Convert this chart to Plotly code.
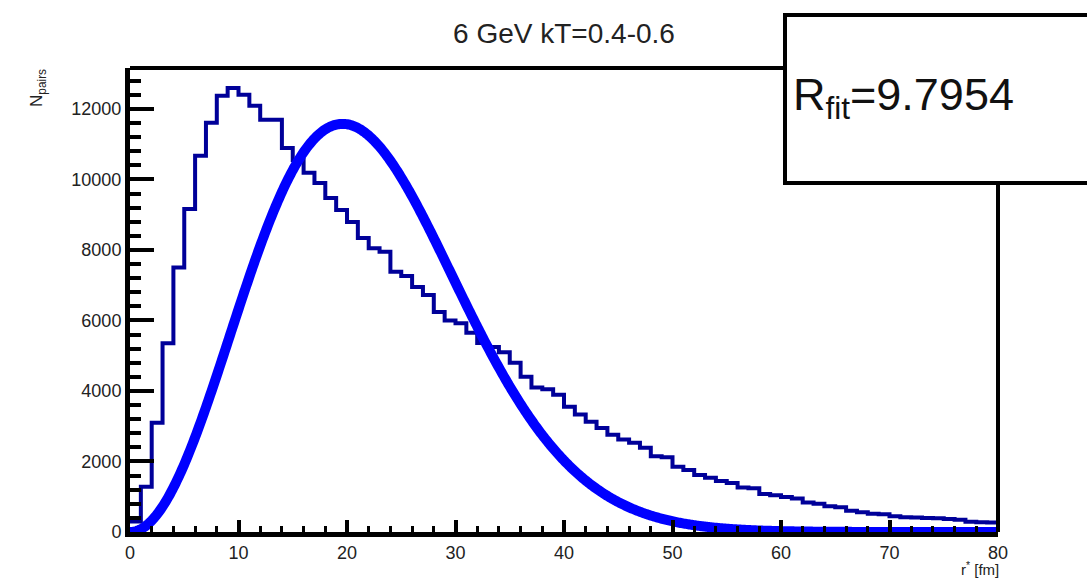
import numpy as np
import plotly.graph_objects as go

# Pair-separation histogram, 1 fm bins from 0 to 80 fm
bin_edges = list(range(0, 81))
counts = [300, 1280, 3100, 5350, 7500, 9160, 10670, 11610, 12370, 12590,
          12400, 12090, 11690, 11690, 10890, 10550, 10190, 9900, 9475, 9135,
          8795, 8340, 8050, 7950, 7380, 7260, 6950, 6720, 6240, 6000,
          5920, 5650, 5360, 5250, 5100, 4800, 4400, 4100, 4050, 3890,
          3550, 3330, 3130, 2950, 2760, 2620, 2530, 2390, 2150, 2120,
          1850, 1760, 1620, 1540, 1450, 1390, 1260, 1240, 1080, 1040,
          990, 950, 840, 800, 730, 700, 600, 560, 520, 500,
          450, 420, 410, 400, 390, 370, 350, 290, 280, 270]

# Gaussian source fit: N(r) = A * (r/2R)^2 * exp(1 - (r/2R)^2), peak height A at r = 2R
R_fit = 9.7954
fit_peak = 11575

x_ticks = [0, 10, 20, 30, 40, 50, 60, 70, 80]
y_ticks = [0, 2000, 4000, 6000, 8000, 10000, 12000]

W, H = 1087, 580
L, R, T, B = 130, 89, 68, 48
pw, ph = W - L - R, H - T - B


def px_x(p):
    return (p - L) / pw


def px_y(p):
    return (H - B - p) / ph


fig = go.Figure()

# histogram outline
hx = bin_edges[:-1] + [bin_edges[-1]]
hy = counts + [counts[-1]]
fig.add_trace(go.Scatter(x=hx, y=hy, mode="lines", line_shape="hv",
                         line=dict(color="#000099", width=4),
                         hoverinfo="skip", showlegend=False))

# fit curve
r = np.linspace(0, 80, 800)
u = (r / (2 * R_fit)) ** 2
fit_vals = fit_peak * u * np.exp(1 - u)
fig.add_trace(go.Scatter(x=r, y=fit_vals, mode="lines",
                         line=dict(color="#0000ff", width=10, simplify=False),
                         hoverinfo="skip", showlegend=False))

axis_font = dict(family="Liberation Sans, Arial, sans-serif", size=18, color="#222")

fig.update_layout(
    width=W, height=H,
    margin=dict(l=L, r=R, t=T, b=B),
    paper_bgcolor="white", plot_bgcolor="white",
    title=dict(text="6 GeV kT=0.4-0.6", x=px_x(564), xref="paper",
               y=1 - 33 / H, yref="container", xanchor="center", yanchor="middle",
               font=dict(family="Liberation Sans, Arial, sans-serif", size=28, color="#222")),
    xaxis=dict(range=[0, 80], tickvals=x_ticks, ticktext=[str(v) for v in x_ticks],
               ticks="inside", ticklen=12, tickwidth=4, tickcolor="black",
               minor=dict(dtick=2, ticks="inside", ticklen=6, tickwidth=3, tickcolor="black"),
               showline=True, linewidth=5, linecolor="black", mirror=False,
               showgrid=False, zeroline=False, tickfont=axis_font, fixedrange=True),
    yaxis=dict(range=[0, 13160], tickvals=y_ticks, ticktext=[str(v) for v in y_ticks],
               ticks="inside", ticklen=24, tickwidth=4, tickcolor="black",
               minor=dict(dtick=400, ticks="inside", ticklen=11, tickwidth=4, tickcolor="black"),
               showline=True, linewidth=5, linecolor="black", mirror=False,
               showgrid=False, zeroline=False, tickfont=axis_font, fixedrange=True),
    shapes=[
        # top and right frame edges
        dict(type="line", xref="paper", yref="paper", x0=0, x1=1, y0=1, y1=1,
             line=dict(color="black", width=4)),
        dict(type="line", xref="paper", yref="paper", x0=1, x1=1, y0=0, y1=1,
             line=dict(color="black", width=4)),
        # fit-result box
        dict(type="rect", xref="paper", yref="paper",
             x0=px_x(785), x1=px_x(1095), y0=px_y(183), y1=px_y(15),
             line=dict(color="black", width=4), fillcolor="white", layer="above"),
    ],
    annotations=[
        dict(text="R<sub>fit</sub>=9.7954", xref="paper", yref="paper",
             x=px_x(791), y=px_y(97), xanchor="left", yanchor="middle", showarrow=False,
             font=dict(family="Liberation Sans, Arial, sans-serif", size=45, color="#111")),
        dict(text="N<sub>pairs</sub>", xref="paper", yref="paper", textangle=-90,
             x=px_x(38), y=px_y(88), xanchor="center", yanchor="middle", showarrow=False,
             font=dict(family="Liberation Sans, Arial, sans-serif", size=17, color="#222")),
        dict(text="r<sup>*</sup> [fm]", xref="paper", yref="paper",
             x=px_x(1001), y=px_y(568), xanchor="right", yanchor="middle", showarrow=False,
             font=dict(family="Liberation Sans, Arial, sans-serif", size=15, color="#222")),
    ],
)

fig.write_html("out.html")
